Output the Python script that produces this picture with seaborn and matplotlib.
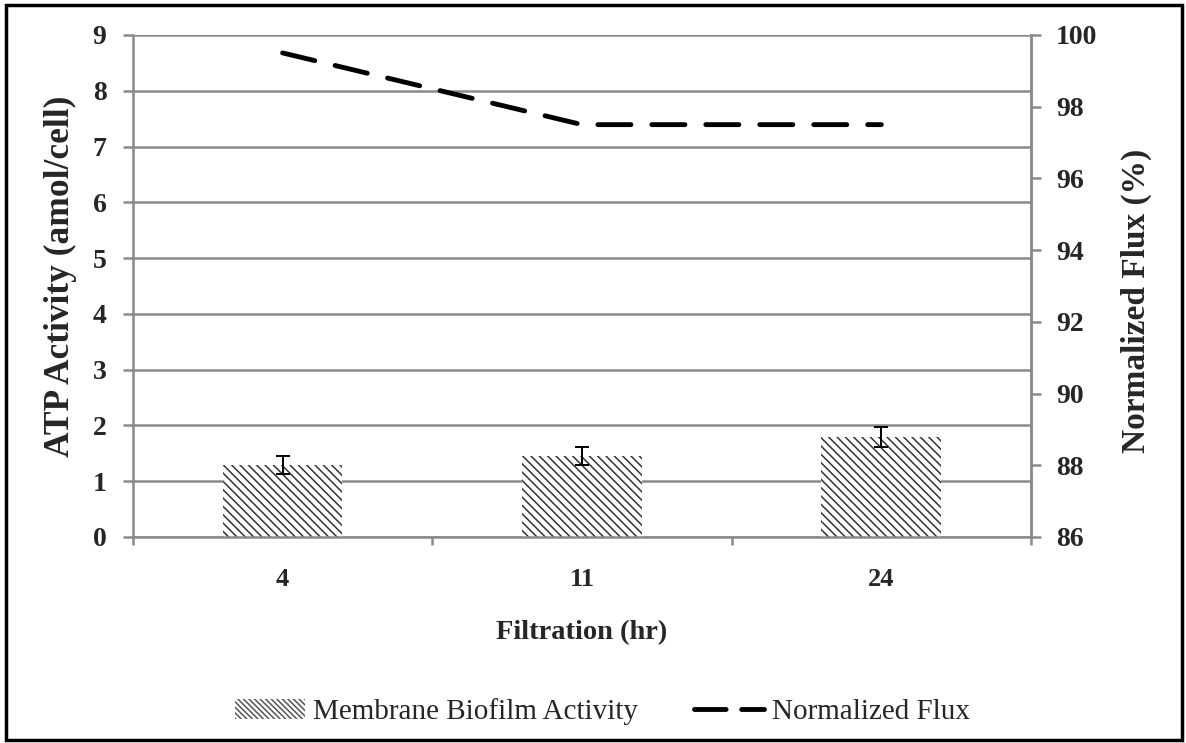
import matplotlib.pyplot as plt
import seaborn as sns
import pandas as pd
from matplotlib.patches import Patch, Rectangle
from matplotlib.lines import Line2D

sns.set_theme(style="white")
plt.rcParams['font.family'] = ['Liberation Serif', 'DejaVu Serif']
plt.rcParams['hatch.linewidth'] = 1.1

# data
hours = ['4', '11', '24']
atp = [1.29, 1.45, 1.79]          # ATP activity (amol/cell)
atp_err = [0.16, 0.16, 0.18]      # error bars
flux = [99.5, 97.5, 97.5]         # normalized flux (%)

df = pd.DataFrame({'hr': hours, 'atp': atp})
grid_col = '#8a8a8a'

fig = plt.figure(figsize=(11.86, 7.43), dpi=100)
ax = fig.add_axes([0.1121, 0.2773, 0.7572, 0.6756])

# bars with hatch + error bars
sns.barplot(data=df, x='hr', y='atp', ax=ax, color='white', errorbar=None,
            width=0.4, edgecolor='#333333', linewidth=0, hatch='\\\\\\\\')
ax.errorbar(range(len(hours)), atp, yerr=atp_err, fmt='none', ecolor='black',
            elinewidth=1.4, capsize=5, capthick=1.4, zorder=5)

ax.set_ylim(0, 9)
ax.set_xlim(-0.5, 2.5)
ax.set_yticks(range(0, 10))
ax.yaxis.grid(True, color=grid_col, linewidth=1.8)
ax.set_axisbelow(True)
ax.set_xticks([-0.5, 0.5, 1.5, 2.5], minor=True)
ax.tick_params(axis='x', which='major', length=0, pad=22, labelsize=19)
ax.tick_params(axis='x', which='minor', length=6, width=1.8, color=grid_col,
               direction='out', bottom=True)
ax.tick_params(axis='y', length=7, width=1.8, color=grid_col, direction='out',
               left=True, labelsize=20, pad=12)
for lbl in ax.get_xticklabels() + ax.get_yticklabels():
    lbl.set_fontweight('bold')
ax.set_xlabel('Filtration (hr)', fontsize=20.5, fontweight='bold', va='center')
ax.xaxis.set_label_coords(0.5, -0.19)
ax.set_ylabel('ATP Activity (amol/cell)', fontsize=25.5, fontweight='bold', va='center')
ax.yaxis.set_label_coords(-0.081, 0.52)
ax.spines['top'].set_visible(False)
for side in ['left', 'bottom', 'right']:
    ax.spines[side].set_color(grid_col)
    ax.spines[side].set_linewidth(1.8)

# flux line on secondary axis
ax2 = ax.twinx()
sns.lineplot(x=list(range(len(hours))), y=flux, ax=ax2, color='black',
             linewidth=3.5, dashes=False)
line = ax2.get_lines()[0]
line.set_dashes((6.8, 4.3))
line.set_dash_capstyle('round')
ax2.set_ylim(86, 100)
ax2.set_yticks(range(86, 101, 2))
ax2.tick_params(axis='y', length=7, width=1.8, color=grid_col, direction='out',
                right=True, labelsize=20, pad=11)
for lbl in ax2.get_yticklabels():
    lbl.set_fontweight('bold')
ax2.set_ylabel('Normalized Flux (%)', fontsize=24, fontweight='bold', va='center')
ax2.yaxis.set_label_coords(1.117, 0.47)
for side in ['top', 'left', 'bottom']:
    ax2.spines[side].set_visible(False)
ax2.spines['right'].set_color(grid_col)
ax2.spines['right'].set_linewidth(1.8)
ax2.set_xlim(-0.5, 2.5)

handles = [Patch(facecolor='white', edgecolor='#555555', linewidth=0, hatch='\\\\\\\\\\\\'),
           Line2D([0], [0], color='black', linewidth=3.5, dashes=(6.5, 3.2),
                  dash_capstyle='round')]
fig.legend(handles, ['Membrane Biofilm Activity', 'Normalized Flux'],
           loc='center', bbox_to_anchor=(0.508, 0.042), ncol=2, frameon=False,
           fontsize=21, handlelength=2.4, handleheight=0.7, columnspacing=1.9,
           handletextpad=0.3)

# chart border
fig.patches.append(Rectangle((0.005, 0.004), 0.992, 0.989, transform=fig.transFigure,
                             fill=False, edgecolor='black', linewidth=2.5))

fig.savefig('out.png', dpi=100)
